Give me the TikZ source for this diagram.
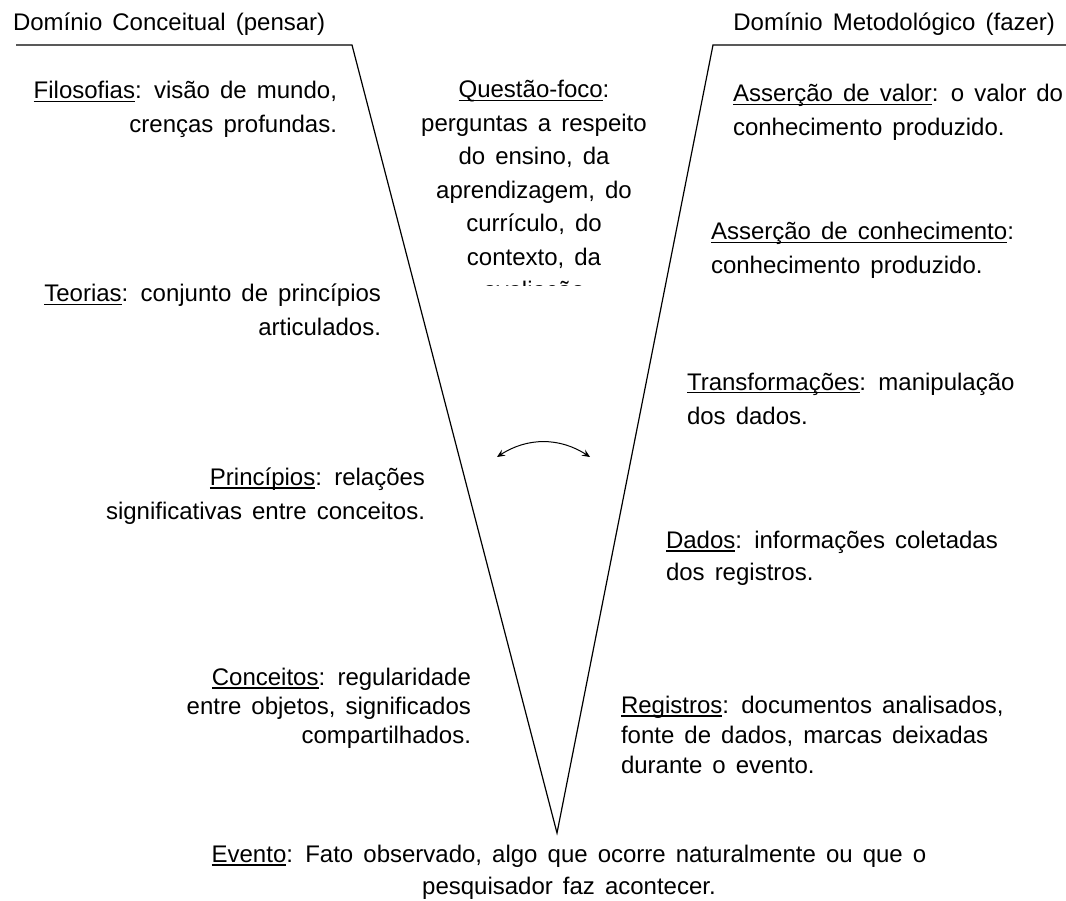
\documentclass[tikz,border=0pt]{standalone}
\usepackage{fontspec}
\setmainfont{Liberation Sans}
\usetikzlibrary{arrows.meta}
\newcommand{\myul}[1]{\leavevmode\setbox0\hbox{#1}\rlap{\rule[-3.5pt]{\wd0}{1.2pt}}\box0}
\tikzset{
  lbl/.style={font={\fontsize{24}{#1}\selectfont\spaceskip=0.42em plus 0.1em}, inner sep=0pt, outer sep=0pt},
  lbl/.default=34,
  vline/.style={line width=1.2pt, line join=miter},
  swing/.style={line width=1pt, {Stealth[length=8pt,width=7pt,inset=3pt]}-{Stealth[length=8pt,width=7pt,inset=3pt]}}
}
\begin{document}
\begin{tikzpicture}[x=1pt,y=-1pt]
\useasboundingbox (0,0) rectangle (1066,901);
% V shape
\coordinate (lEnd) at (16,45);
\coordinate (lCorner) at (352,45);
\coordinate (vtx) at (557,833);
\coordinate (rCorner) at (713,45);
\coordinate (rEnd) at (1066,45);
\draw[vline] (lEnd) -- (lCorner) -- (vtx) -- (rCorner) -- (rEnd);
% titles
\node[lbl, anchor=base west] (tl) at (13,31) {Domínio Conceitual (pensar)};
\node[lbl, anchor=base east] (tr) at (1055,31) {Domínio Metodológico (fazer)};
% left side (base anchor = baseline of last line)
\node[lbl, align=right, anchor=base east] (filo) at (337,133) {\myul{Filosofias}: visão de mundo,\\crenças profundas.};
\node[lbl, align=right, anchor=base east] (teo) at (381,336) {\myul{Teorias}: conjunto de princípios\\articulados.};
\node[lbl, align=right, anchor=base east] (princ) at (425,519) {\myul{Princípios}: relações\\significativas entre conceitos.};
\node[lbl=29, align=right, anchor=base east] (conc) at (471,743) {\myul{Conceitos}: regularidade\\entre objetos, significados\\compartilhados.};
% centre (last line cut off, as in the reference)
\begin{scope}
\clip (400,55) rectangle (680,286);
\node[lbl=33.6, align=center, anchor=base] (quest) at (534,299) {\myul{Questão-foco}:\\perguntas a respeito\\do ensino, da\\aprendizagem, do\\currículo, do\\contexto, da\\avaliação};
\end{scope}
% right side
\node[lbl, align=left, anchor=base west] (asv) at (733,136) {\myul{Asserção de valor}: o valor do\\conhecimento produzido.};
\node[lbl, align=left, anchor=base west] (asc) at (711,274) {\myul{Asserção de conhecimento}:\\conhecimento produzido.};
\node[lbl, align=left, anchor=base west] (trans) at (687,424) {\myul{Transformações}: manipulação\\dos dados.};
\node[lbl=32, align=left, anchor=base west] (dados) at (666,580) {\myul{Dados}: informações coletadas\\dos registros.};
\node[lbl=30, align=left, anchor=base west] (reg) at (621,773) {\myul{Registros}: documentos analisados,\\fonte de dados, marcas deixadas\\durante o evento.};
% bottom
\node[lbl=32, align=center, anchor=base] (evt) at (569,894) {\myul{Evento}: Fato observado, algo que ocorre naturalmente ou que o\\pesquisador faz acontecer.};
% double arrow
\coordinate (aL) at (497,457);
\coordinate (aR) at (590,457);
\draw[swing] (aL) to[bend left=33] (aR);
\end{tikzpicture}
\end{document}
